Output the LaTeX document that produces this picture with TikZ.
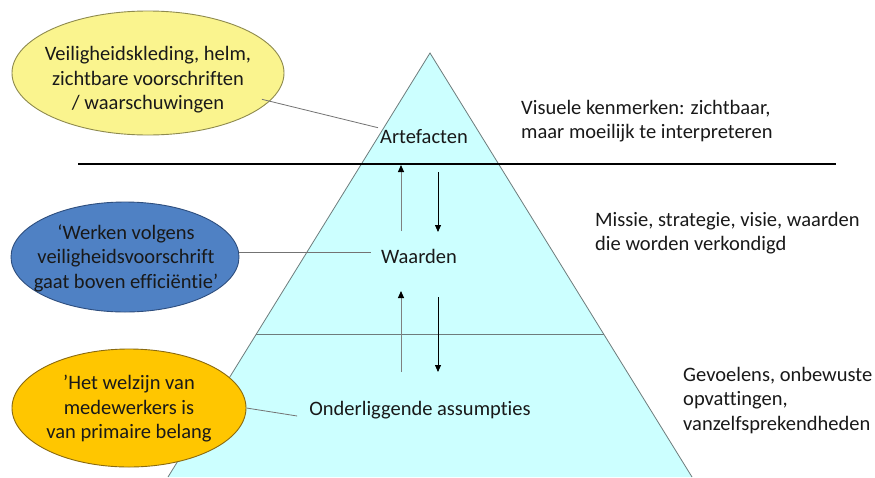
\documentclass[tikz,border=0pt]{standalone}
\usepackage{fontspec}
\setmainfont{Carlito}[Ligatures=CommonOff]
\usetikzlibrary{arrows.meta,shapes.geometric,calc}
\definecolor{pyrfill}{HTML}{CCFFFF}
\definecolor{pyredge}{HTML}{6E7C7C}
\definecolor{noteyellow}{HTML}{FAF48E}
\definecolor{noteyellowedge}{HTML}{8E8A4E}
\definecolor{noteblue}{HTML}{4F81C4}
\definecolor{noteblueedge}{HTML}{2E4E7E}
\definecolor{notegold}{HTML}{FFC600}
\definecolor{notegoldedge}{HTML}{8A6A10}
\tikzset{
  txt/.style={font=\fontsize{20.5}{24.5}\selectfont, text=black!90, inner sep=0pt},
  note/.style={ellipse, line width=0.9pt, inner sep=0pt},
  notetxt/.style={txt, align=center},
  sidetxt/.style={txt, align=left, anchor=north west},
  lead/.style={draw=black!55, line width=0.8pt},
  upflow/.style={draw=black!50, line width=1pt, -{Triangle[length=7pt,width=6pt,color=black]}},
  downflow/.style={draw=black, line width=0.8pt, -{Triangle[length=7pt,width=6pt]}},
}
\begin{document}
\begin{tikzpicture}[x=1pt,y=-1pt]
\useasboundingbox[fill=white] (0,0) rectangle (875,477);

% pyramid body (the base lies on the lower edge)
\fill[pyrfill] (168,477) -- (430,53) -- (692,477) -- cycle;
\draw[pyredge, line width=0.8pt] (168,477) -- (430,53) -- (692,477);
% boundary between values and assumptions
\draw[pyredge, line width=0.8pt] (256.4,334) -- (603.6,334);
% waterline
\draw[black, line width=2pt] (78,164) -- (836,164);

% level labels
\node[txt] (art) at (424,137) {Artefacten};
\node[txt] (waa) at (419,256) {Waarden};
\node[txt] (ond) at (420,410) {Onderliggende assumpties};

% flows between the levels
\coordinate (u1s) at (401,231); \coordinate (u1e) at (401,165);
\coordinate (d1s) at (438,172); \coordinate (d1e) at (438,232);
\coordinate (u2s) at (401,372); \coordinate (u2e) at (401,291);
\coordinate (d2s) at (438,297); \coordinate (d2e) at (438,372);
\draw[upflow] (u1s) -- (u1e);
\draw[downflow] (d1s) -- (d1e);
\draw[upflow] (u2s) -- (u2e);
\draw[downflow] (d2s) -- (d2e);

% example notes
\node[note, fill=noteyellow, draw=noteyellowedge, minimum width=272pt, minimum height=124pt]
  (ex1) at (148,73) {};
\node[notetxt] (ex1t) at (148,80) {Veiligheidskleding, helm,\\zichtbare voorschriften\\/ waarschuwingen};
\node[note, fill=noteblue, draw=noteblueedge, minimum width=228pt, minimum height=110pt]
  (ex2) at (125,257) {};
\node[notetxt] (ex2t) at (126,258) {‘Werken volgens\\veiligheidsvoorschrift\\gaat boven efficiëntie’};
\node[note, fill=notegold, draw=notegoldedge, minimum width=234pt, minimum height=118pt]
  (ex3) at (129,408) {};
\node[notetxt] (ex3t) at (129,409) {’Het welzijn van\\medewerkers is\\van primaire belang};

% leaders from notes to levels
\draw[lead] ($(ex1.center)!0.935!(ex1.-13)$) -- ([xshift=-2pt,yshift=2pt]art.north west);
\coordinate (w2) at ([xshift=-10pt,yshift=4pt]waa.west);
\draw[lead] (ex2.east |- w2) -- (w2);
\draw[lead] (ex3.east) -- ([xshift=-12pt,yshift=-6pt]ond.west);

% descriptions
\node[sidetxt] (d1) at (521,100) {Visuele kenmerken: zichtbaar,\\maar moeilijk te interpreteren};
\node[sidetxt] (d2) at (595,212) {Missie, strategie, visie, waarden\\die worden verkondigd};
\node[sidetxt] (d3) at (683,367) {Gevoelens, onbewuste\\opvattingen,\\vanzelfsprekendheden};
\end{tikzpicture}
\end{document}
